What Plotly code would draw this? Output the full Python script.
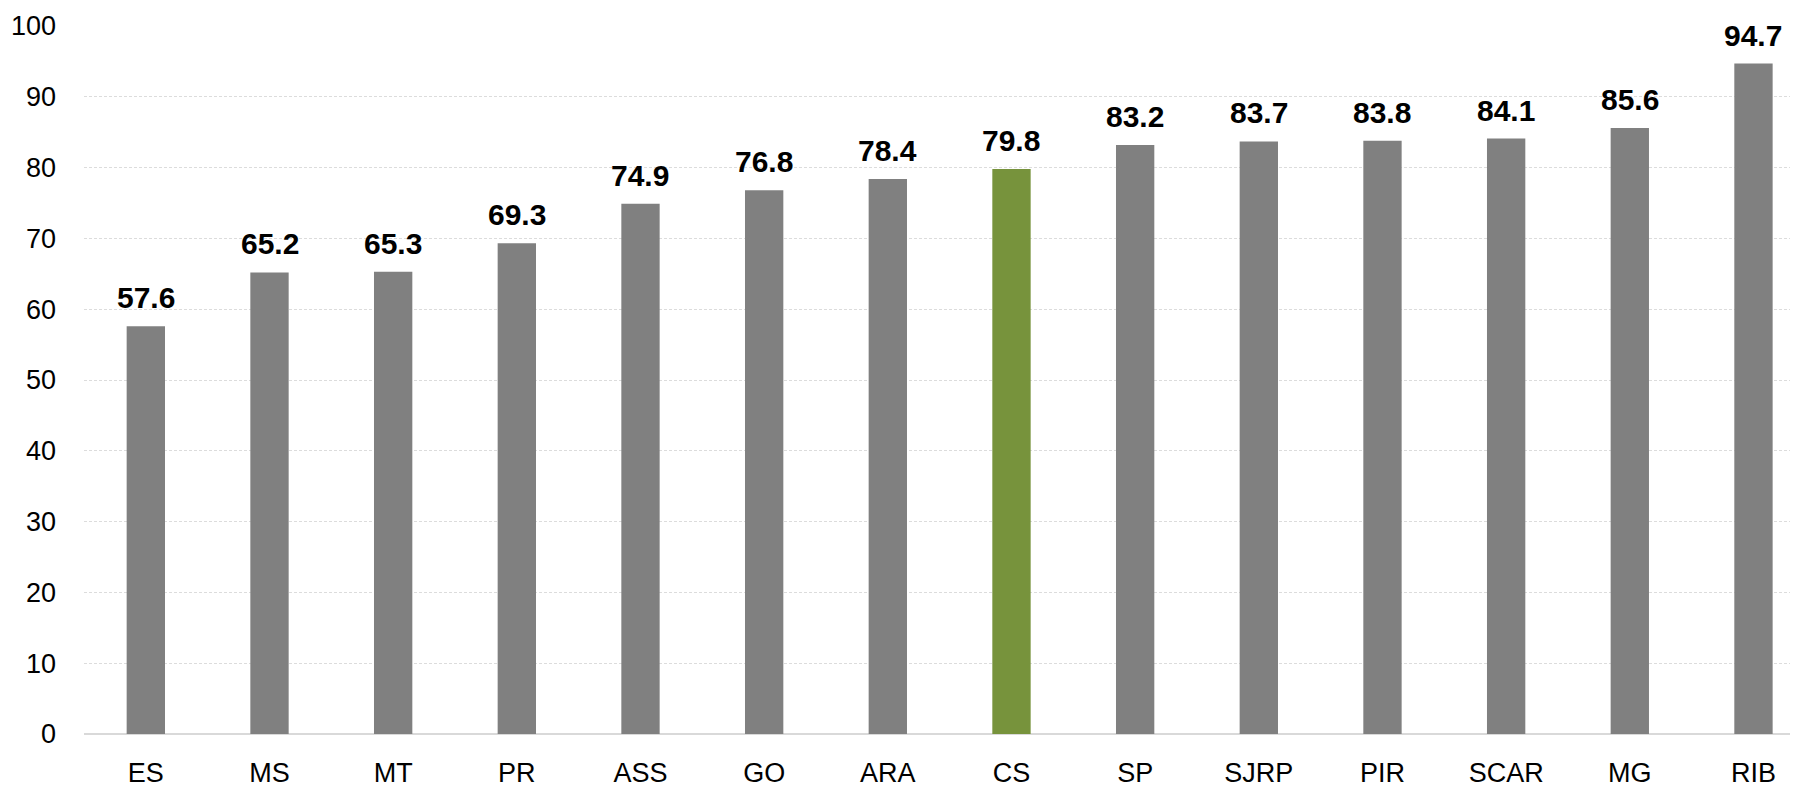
import plotly.graph_objects as go

categories = ["ES", "MS", "MT", "PR", "ASS", "GO", "ARA", "CS", "SP", "SJRP", "PIR", "SCAR", "MG", "RIB"]
values = [57.6, 65.2, 65.3, 69.3, 74.9, 76.8, 78.4, 79.8, 83.2, 83.7, 83.8, 84.1, 85.6, 94.7]
highlight = "CS"
y_ticks = [0, 10, 20, 30, 40, 50, 60, 70, 80, 90, 100]

colors = ["#77933C" if c == highlight else "#808080" for c in categories]

fig = go.Figure(go.Bar(
    x=categories,
    y=values,
    marker=dict(color=colors, line=dict(width=0)),
    cliponaxis=False,
))

for c, v in zip(categories, values):
    fig.add_annotation(
        x=c, y=v, xref="x", yref="y",
        text=f"{v:.1f}", showarrow=False,
        yanchor="bottom", xanchor="center", yshift=10,
        font=dict(family="Liberation Sans, Arial", size=30, color="black", weight="bold"),
    )

fig.update_layout(
    width=1798, height=786,
    margin=dict(l=76, r=8, t=18, b=60, autoexpand=False),
    paper_bgcolor="white", plot_bgcolor="white",
    bargap=0.69,
    showlegend=False,
    font=dict(family="Liberation Sans, Arial", size=27, color="black"),
)
fig.update_xaxes(
    range=[-0.5, 13.36],
    showgrid=False,
    showline=False,
    tickfont=dict(size=27),
    ticks="",
    automargin=False,
    ticklabelstandoff=20,
)
fig.update_yaxes(
    range=[0, 100],
    tickvals=y_ticks,
    showgrid=True, gridcolor="#dcdcdc", griddash="3px,2px", gridwidth=1,
    zeroline=True, zerolinecolor="#d9d9d9", zerolinewidth=2,
    tickfont=dict(size=27),
    ticks="", ticklabelstandoff=27,
    automargin=False,
)

fig.write_html("out.html")
